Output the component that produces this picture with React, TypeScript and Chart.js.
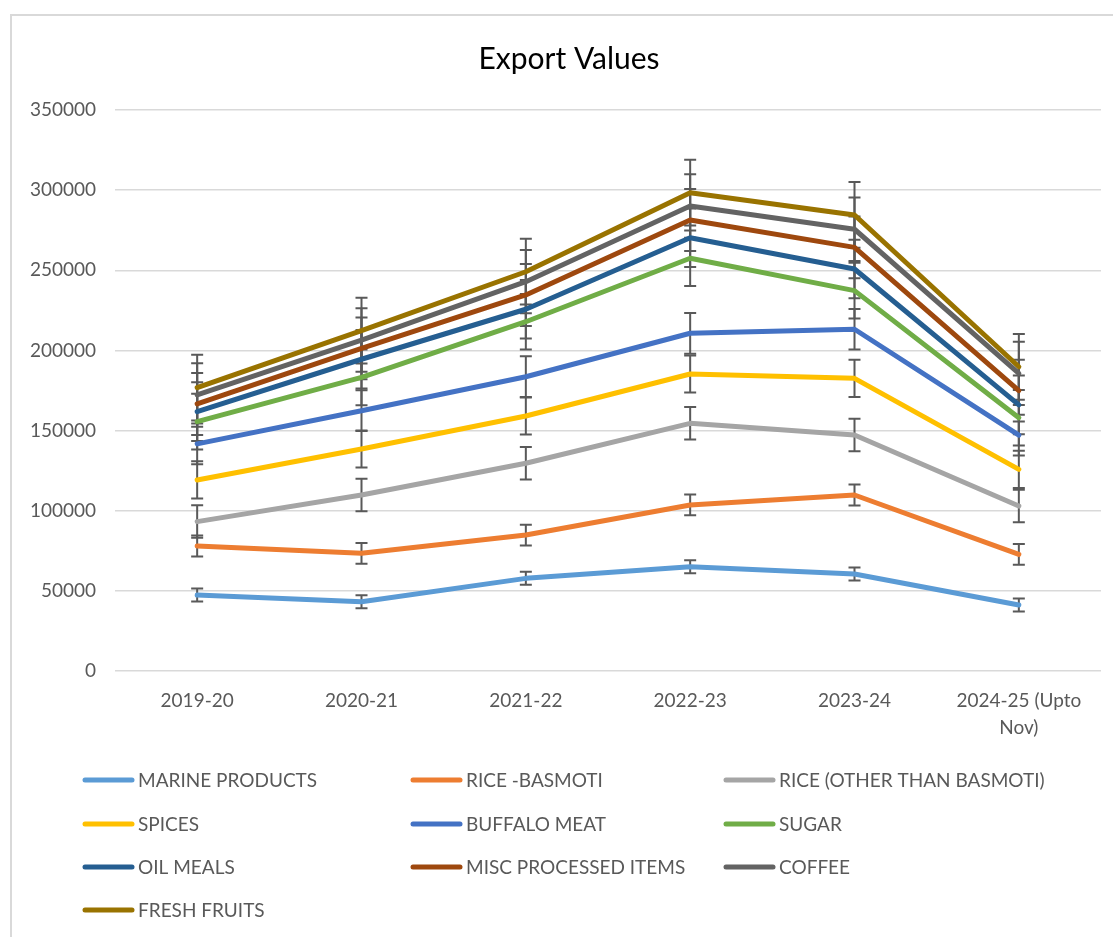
import React, { useEffect, useRef } from "react";
import { Chart, registerables } from "chart.js";

Chart.register(...registerables);

const chartTitle = "Export Values";
const categories: (string | string[])[] = [
  "2019-20",
  "2020-21",
  "2021-22",
  "2022-23",
  "2023-24",
  ["2024-25 (Upto", "Nov)"],
];

const seriesNames = [
  "MARINE PRODUCTS",
  "RICE -BASMOTI",
  "RICE (OTHER THAN BASMOTI)",
  "SPICES",
  "BUFFALO MEAT",
  "SUGAR",
  "OIL MEALS",
  "MISC PROCESSED ITEMS",
  "COFFEE",
  "FRESH FRUITS",
];

const marineProducts = [47400, 43200, 57800, 65100, 60500, 41200];
const riceBasmati = [30600, 30200, 27000, 38500, 49300, 31600];
const riceOther = [15200, 36400, 44800, 50900, 37400, 30100];
const spices = [26000, 28700, 29500, 30800, 35400, 22900];
const buffaloMeat = [22500, 23900, 24500, 25400, 30600, 21400];
const sugar = [13900, 20800, 34300, 46800, 24100, 10800];
const oilMeals = [6200, 11300, 7800, 12800, 13500, 8000];
const miscProcessed = [4800, 6800, 8900, 11100, 13500, 8900];
const coffee = [5600, 5200, 8300, 8700, 11300, 10800];
const freshFruits = [4600, 5800, 6200, 8300, 8900, 4100];

const seriesValues = [
  marineProducts,
  riceBasmati,
  riceOther,
  spices,
  buffaloMeat,
  sugar,
  oilMeals,
  miscProcessed,
  coffee,
  freshFruits,
];

const seriesColors = [
  "#5B9BD5",
  "#ED7D31",
  "#A5A5A5",
  "#FFC000",
  "#4472C4",
  "#70AD47",
  "#255E91",
  "#9E480E",
  "#636363",
  "#997300",
];

const yMin = 0;
const yMax = 350000;
const yStep = 50000;

const FONT = "Lato, 'Open Sans', sans-serif";
const TEXT = "#595959";

// standard error of the stacked (plotted) values of each series, as Excel does
function stackedStandardErrors(): number[] {
  const n = categories.length;
  const running = new Array(n).fill(0);
  return seriesValues.map((vals) => {
    const cum = vals.map((v, j) => (running[j] += v));
    const mean = cum.reduce((a, b) => a + b, 0) / n;
    const variance = cum.reduce((a, b) => a + (b - mean) * (b - mean), 0) / (n - 1);
    return Math.sqrt(variance) / Math.sqrt(n);
  });
}

const errorBarPlugin = {
  id: "errorBars",
  beforeDatasetsDraw(chart: any) {
    const ses = stackedStandardErrors();
    const yScale = chart.scales.y;
    const ctx = chart.ctx;
    ctx.save();
    ctx.strokeStyle = "#595959";
    ctx.lineWidth = 2;
    chart.data.datasets.forEach((_ds: any, i: number) => {
      const meta = chart.getDatasetMeta(i);
      const d = yScale.getPixelForValue(0) - yScale.getPixelForValue(ses[i]);
      meta.data.forEach((pt: any) => {
        const x = pt.x;
        const y = pt.y;
        ctx.beginPath();
        ctx.moveTo(x, y - d);
        ctx.lineTo(x, y + d);
        ctx.moveTo(x - 6, y - d);
        ctx.lineTo(x + 6, y - d);
        ctx.moveTo(x - 6, y + d);
        ctx.lineTo(x + 6, y + d);
        ctx.stroke();
      });
    });
    ctx.restore();
  },
};

const titleAndLegendPlugin = {
  id: "titleLegend",
  afterDraw(chart: any) {
    const ctx = chart.ctx;
    ctx.save();
    ctx.fillStyle = "#000000";
    ctx.font = `30px ${FONT}`;
    ctx.textAlign = "center";
    ctx.textBaseline = "middle";
    ctx.fillText(chartTitle, 569, 59);

    const colText = [138, 466, 779];
    const rowY = [780, 824, 867, 910];
    ctx.font = `19px ${FONT}`;
    ctx.textAlign = "left";
    seriesNames.forEach((name, i) => {
      const r = Math.floor(i / 3);
      const c = i % 3;
      const y = rowY[r];
      const tx = colText[c];
      ctx.strokeStyle = seriesColors[i];
      ctx.lineWidth = 5;
      ctx.lineCap = "round";
      ctx.beginPath();
      ctx.moveTo(tx - 53, y);
      ctx.lineTo(tx - 6, y);
      ctx.stroke();
      ctx.fillStyle = TEXT;
      ctx.fillText(name, tx, y + 1);
    });
    ctx.restore();
  },
};

export default function App() {
  const canvasRef = useRef<HTMLCanvasElement | null>(null);

  useEffect(() => {
    let chart: Chart | null = null;
    let cancelled = false;
    const make = () => {
      if (cancelled || !canvasRef.current) return;
      chart = new Chart(canvasRef.current, {
        type: "line",
        data: {
          labels: categories as any,
          datasets: seriesValues.map((vals, i) => ({
            label: seriesNames[i],
            data: vals,
            borderColor: seriesColors[i],
            backgroundColor: seriesColors[i],
            borderWidth: 5,
            borderCapStyle: "round",
            borderJoinStyle: "round",
            pointRadius: 0,
            pointHoverRadius: 0,
            fill: false,
            tension: 0,
          })),
        },
        options: {
          responsive: false,
          animation: false,
          layout: { padding: { top: 110, left: 0, right: 12, bottom: 166 } },
          plugins: {
            legend: { display: false },
            title: { display: false },
            tooltip: { enabled: false },
          },
          scales: {
            x: {
              offset: true,
              grid: { display: false, drawTicks: false },
              border: { display: false },
              ticks: {
                color: TEXT,
                font: { family: FONT, size: 19, lineHeight: 1.45 },
                padding: 16,
                maxRotation: 0,
                autoSkip: false,
              },
              afterFit: (s: any) => {
                s.height = 100;
              },
            },
            y: {
              stacked: true,
              min: yMin,
              max: yMax,
              ticks: {
                stepSize: yStep,
                color: TEXT,
                font: { family: FONT, size: 19 },
                padding: 19,
                callback: (v: any) => String(v),
              },
              grid: { color: "#d9d9d9", lineWidth: 1.5, drawTicks: false },
              border: { display: false },
              afterFit: (s: any) => {
                s.width = 115;
              },
            },
          },
        },
        plugins: [errorBarPlugin, titleAndLegendPlugin],
      } as any);
    };
    const fonts = (document as any).fonts;
    if (fonts && fonts.load) {
      Promise.all([fonts.load(`19px Lato`), fonts.load(`30px Lato`)])
        .catch(() => null)
        .then(make);
    } else {
      make();
    }
    return () => {
      cancelled = true;
      if (chart) chart.destroy();
    };
  }, []);

  return (
    <div
      style={{
        position: "absolute",
        left: 0,
        top: 0,
        width: 1113,
        height: 937,
        overflow: "hidden",
        background: "#ffffff",
      }}
    >
      <div
        style={{
          position: "absolute",
          left: 10,
          top: 14,
          width: 1200,
          height: 1000,
          border: "2px solid #d9d9d9",
        }}
      />
      <canvas
        ref={canvasRef}
        width={1113}
        height={937}
        style={{ position: "absolute", left: 0, top: 0, display: "block" }}
      />
    </div>
  );
}
